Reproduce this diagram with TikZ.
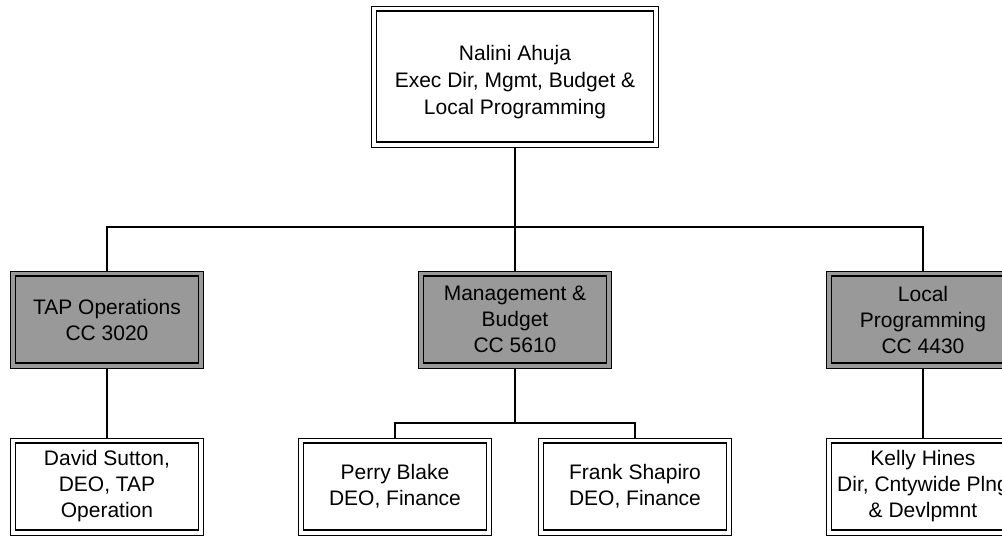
\documentclass[tikz,border=0pt]{standalone}
\usepackage{fontspec}
\newfontfamily\orgfont{Liberation Sans}
\tikzset{
  unit/.style={draw, line width=1pt, minimum width=193pt, minimum height=97pt,
    inner sep=0pt, align=center, font=\orgfont\fontsize{21}{26}\selectfont},
  office/.style={unit, fill=black!40},
  person/.style={unit, fill=white},
  rim/.style={line width=1.6pt},
  link/.style={line width=1.5pt},
}

\begin{document}
\begin{tikzpicture}[x=1pt,y=-1pt]
        \useasboundingbox (0,0) rectangle (1002,536);
        \clip (0,0) rectangle (1002,536);

        % head of the unit
        \node[unit, minimum width=287pt, minimum height=141pt,
          font=\orgfont\fontsize{21}{27}\selectfont] (exec) at (515,76.5)
          {\rule{0pt}{27pt}Nalini Ahuja\\Exec Dir, Mgmt, Budget \&\\Local Programming};

        % cost centres
        \node[office] (tapops) at (107,319.5) {TAP Operations\\CC 3020};
        \node[office] (mgmtbud) at (515,319.5) {Management \&\\Budget\\CC 5610};
        \node[office] (localprog) at (923,319.5) {Local\\Programming\\CC 4430};

        % staff
        \node[person] (sutton) at (107,486.5) {David Sutton,\\DEO, TAP\\Operation};
        \node[person] (blake) at (395,486.5) {Perry Blake\\DEO, Finance};
        \node[person] (shapiro) at (635,486.5) {Frank Shapiro\\DEO, Finance};
        \node[person] (hines) at (923,486.5) {Kelly Hines\\Dir, Cntywide Plng\\\& Devlpmnt};

        % inner frame of every box
        \foreach \n in {exec,tapops,mgmtbud,localprog,sutton,blake,shapiro,hines}{
          \draw[rim] ([shift={(5.5pt,-5.5pt)}]\n.north west) rectangle ([shift={(-5.5pt,5.5pt)}]\n.south east);
        }

        % reporting lines
        \coordinate (bus) at (515,227);
        \coordinate (subbus) at (515,423);
        \draw[link] (exec) -- (mgmtbud);
        \draw[link] (tapops.north) |- (bus) -| (localprog.north);
        \draw[link] (mgmtbud.south) -- (subbus);
        \draw[link] (blake.north) |- (subbus) -| (shapiro.north);
        \draw[link] (tapops) -- (sutton);
        \draw[link] (localprog) -- (hines);
    \end{tikzpicture}
\end{document}
